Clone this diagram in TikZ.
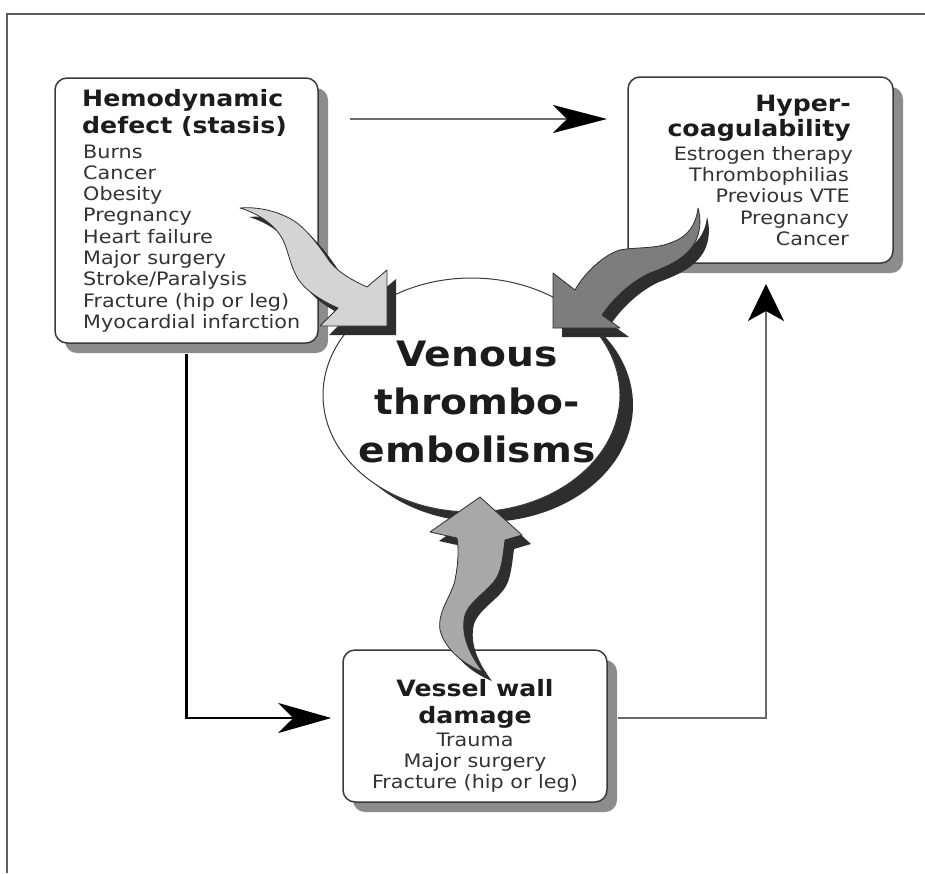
\documentclass[tikz,border=0pt]{standalone}
\usepackage{fontspec}
\setmainfont[FakeStretch=1.12]{DejaVu Sans}
\usetikzlibrary{arrows.meta,shapes.geometric,shadows}
\definecolor{framec}{HTML}{5E5E5E}
\definecolor{boxline}{HTML}{3A3A3A}
\definecolor{boxshadow}{HTML}{8C8C8C}
\definecolor{titlecol}{HTML}{1C1C1C}
\definecolor{smallcol}{HTML}{333333}
\definecolor{darkshadow}{HTML}{2E2E2E}
\definecolor{wavyAcol}{HTML}{D4D4D4}
\definecolor{wavyBcol}{HTML}{7D7D7D}
\definecolor{wavyCcol}{HTML}{A8A8A8}
\definecolor{conngray}{HTML}{6A6A6A}
\tikzset{
  riskbox/.style={draw=boxline, line width=1.5pt, fill=white, rounded corners=12pt,
    general shadow={fill=boxshadow, shadow xshift=10pt, shadow yshift=-10pt}},
  titletext/.style={inner sep=0pt, font=\bfseries\fontsize{22.5}{25}\selectfont, text=titlecol},
  smalltext/.style={inner sep=0pt, font=\fontsize{18.5}{21}\selectfont, text=smallcol},
  bigtext/.style={inner sep=0pt, font=\bfseries\fontsize{35}{48}\selectfont, text=titlecol},
  wavyfill/.style={draw=darkshadow, line width=0.8pt, line join=round},
  wavyshadow/.style={fill=darkshadow, shift={(9,9)}},
  grayconn/.style={draw=conngray, line width=2pt},
  blackconn/.style={draw=black, line width=2.5pt},
}
\def\wavyA{(240,208) .. controls (262,206) and (285,214) .. (297,223) .. controls (310,233) and (322,250) .. (330,262) .. controls (340,274) and (354,281) .. (367,287) -- (387,270) -- (387,326) -- (320,326) -- (338,308) .. controls (322,301) and (304,290) .. (297,277) .. controls (290,265) and (288,250) .. (283,240) .. controls (276,226) and (260,214) .. (240,208) -- cycle}
\def\wavyB{(698,208) .. controls (696,225) and (688,237) .. (670,243) .. controls (655,249) and (635,247) .. (620,250) .. controls (605,254) and (585,272) .. (575,290) -- (553,273) -- (553,328) -- (620,328) -- (602,315) .. controls (612,300) and (630,282) .. (650,273) .. controls (672,265) and (692,255) .. (698,235) .. controls (701,225) and (700,215) .. (698,208) -- cycle}
\def\wavyC{(480,497) -- (522,535) -- (505,540) .. controls (503,555) and (502,568) .. (497,577) .. controls (490,590) and (470,600) .. (465,615) .. controls (460,635) and (470,655) .. (483,672) .. controls (465,665) and (445,650) .. (440,630) .. controls (437,612) and (452,595) .. (455,580) .. controls (458,565) and (459,550) .. (457,538) -- (430,532) -- cycle}
\begin{document}
\begin{tikzpicture}[x=1pt,y=-1pt]
\useasboundingbox[fill=white] (0,0) rectangle (925,873);
% frame
\coordinate (fbl) at (7,873);
\coordinate (ftl) at (7,14);
\coordinate (ftr) at (925,14);
\draw[framec, line width=2pt] (fbl) -- (ftl) -- (ftr);
% node placeholders for connectors
\coordinate (hemoc) at (186.5,210.5);
\coordinate (hyperc) at (760.5,170);
\coordinate (vesselc) at (475,726);
% boxes
\node[riskbox, minimum width=263pt, minimum height=265pt] (hemo) at (hemoc) {};
\node[riskbox, minimum width=265pt, minimum height=186pt] (hyper) at (hyperc) {};
\node[riskbox, minimum width=264pt, minimum height=152pt] (vessel) at (vesselc) {};
% connectors
\coordinate (topA) at (350,119);
\coordinate (topB) at (607,119);
\coordinate (rightTip) at (766,284);
\draw[grayconn, -{Stealth[length=54pt, width=28pt, inset=14pt, color=black]}] (topA) -- (topB);
\draw[blackconn, shorten <=10pt, -{Stealth[length=53pt, width=30pt, inset=15pt, color=black]}] (hemo.south) |- ([xshift=-11pt, yshift=8pt]vessel.west);
\draw[grayconn, shorten <=10pt, -{Stealth[length=37pt, width=36pt, inset=10pt, color=black]}] ([yshift=8pt]vessel.east) -| (rightTip);
% central ellipse
\coordinate (vtec) at (471.5,395);
\fill[darkshadow] ([xshift=13pt, yshift=-10pt]vtec) ellipse [x radius=148.5pt, y radius=117pt];
\node[ellipse, draw=boxline, line width=1pt, fill=white, minimum width=297pt, minimum height=234pt, inner sep=0pt] (vte) at (vtec) {};
\node[bigtext, anchor=base] (v1) at (477,366) {Venous};
\node[bigtext, anchor=base] (v2) at (477,414) {thrombo-};
\node[bigtext, anchor=base] (v3) at (477,462) {embolisms};
% hemodynamic text
\node[titletext, anchor=base west] (h1) at (82,106) {Hemodynamic};
\node[titletext, anchor=base west] (h2) at (82,133) {defect (stasis)};
\node[smalltext, anchor=base west] (h3) at (83,158) {Burns};
\node[smalltext, anchor=base west] (h4) at (83,179.3) {Cancer};
\node[smalltext, anchor=base west] (h5) at (83,200.6) {Obesity};
\node[smalltext, anchor=base west] (h6) at (83,221.9) {Pregnancy};
\node[smalltext, anchor=base west] (h7) at (83,243.2) {Heart failure};
\node[smalltext, anchor=base west] (h8) at (83,264.5) {Major surgery};
\node[smalltext, anchor=base west] (h9) at (83,285.8) {Stroke/Paralysis};
\node[smalltext, anchor=base west] (h10) at (83,307.1) {Fracture (hip or leg)};
\node[smalltext, anchor=base west] (h11) at (83,328.4) {Myocardial infarction};
% hypercoagulability text
\node[titletext, anchor=base east] (c1) at (851,111.7) {Hyper-};
\node[titletext, anchor=base east] (c2) at (851,136.7) {coagulability};
\node[smalltext, anchor=base east] (c3) at (853,160.7) {Estrogen therapy};
\node[smalltext, anchor=base east] (c4) at (849,181.8) {Thrombophilias};
\node[smalltext, anchor=base east] (c5) at (850,202.9) {Previous VTE};
\node[smalltext, anchor=base east] (c6) at (849,224) {Pregnancy};
\node[smalltext, anchor=base east] (c7) at (849,245.1) {Cancer};
% vessel wall text
\node[titletext, anchor=base] (w1) at (475,696.7) {Vessel wall};
\node[titletext, anchor=base] (w2) at (475,723.3) {damage};
\node[smalltext, anchor=base] (w3) at (475,746.7) {Trauma};
\node[smalltext, anchor=base] (w4) at (475,767.5) {Major surgery};
\node[smalltext, anchor=base] (w5) at (475,788.3) {Fracture (hip or leg)};
% wavy arrows
\fill[wavyshadow] \wavyA;
\filldraw[wavyfill, fill=wavyAcol] \wavyA;
\fill[wavyshadow] \wavyB;
\filldraw[wavyfill, fill=wavyBcol] \wavyB;
\fill[wavyshadow] \wavyC;
\filldraw[wavyfill, fill=wavyCcol] \wavyC;
\end{tikzpicture}
\end{document}
